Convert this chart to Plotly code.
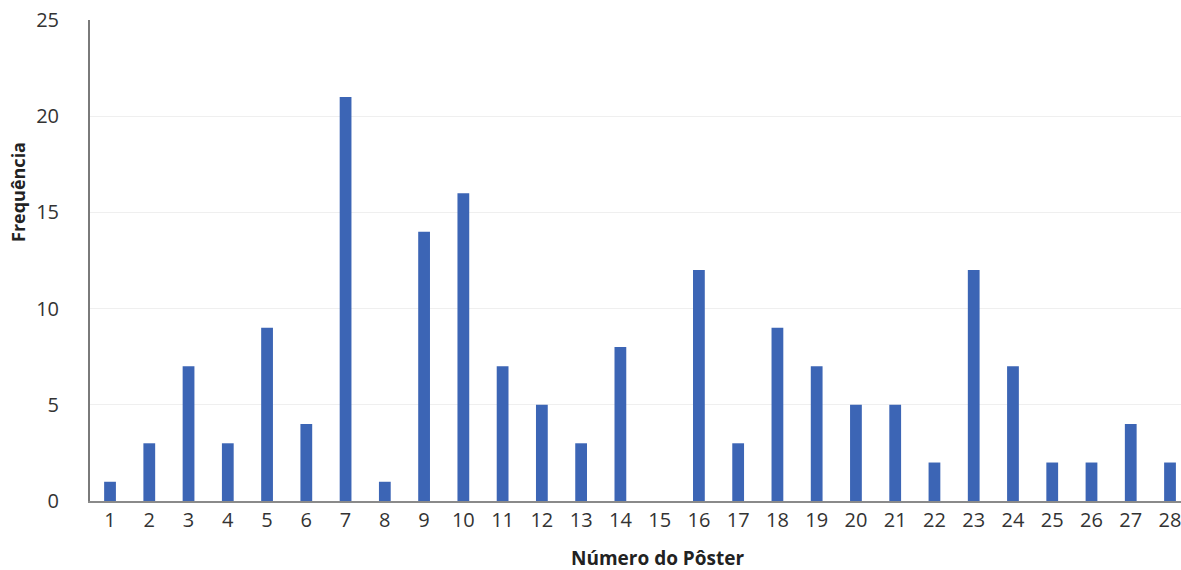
import plotly.graph_objects as go

posters = list(range(1, 29))
frequencia = [1, 3, 7, 3, 9, 4, 21, 1, 14, 16, 7, 5, 3, 8, 0, 12, 3, 9, 7, 5, 5, 2, 12, 7, 2, 2, 4, 2]
y_ticks = [0, 5, 10, 15, 20, 25]

fig = go.Figure()
fig.add_trace(go.Bar(x=posters, y=frequencia, width=0.3,
                     marker=dict(color="#3c65b5", line=dict(width=0))))

W, H = 1181, 570
ml, mr, mt, mb = 90, 0, 20, 69
pw, ph = W - ml - mr, H - mt - mb
fig.update_layout(
    width=W, height=H,
    margin=dict(l=ml, r=mr, t=mt, b=mb),
    paper_bgcolor="white", plot_bgcolor="white",
    font=dict(family="Open Sans, DejaVu Sans, sans-serif", size=20, color="#333333"),
    showlegend=False,
    xaxis=dict(range=[0.49, 28.28], tickmode="array", tickvals=posters,
               ticktext=[str(p) for p in posters], showgrid=False,
               showline=True, linecolor="#8a8a8a", linewidth=2, ticks="",
               zeroline=False, ticklabeloverflow="allow",
               tickfont=dict(size=20, color="#333333")),
    yaxis=dict(range=[0, 25], tickmode="array", tickvals=y_ticks,
               showgrid=True, gridcolor="#efefef", gridwidth=1,
               showline=True, linecolor="#7a7a7a", linewidth=2, ticks="",
               zeroline=False, ticklabelstandoff=25,
               tickfont=dict(size=20, color="#333333")),
)
fig.add_annotation(text="<b>Número do Pôster</b>", xref="paper", yref="paper",
                   x=(657 - ml) / pw, y=-(558 - (H - mb)) / ph,
                   xanchor="center", yanchor="middle", showarrow=False,
                   font=dict(size=19, color="#222222"))
fig.add_annotation(text="<b>Frequência</b>", xref="paper", yref="paper",
                   x=-(ml - 18) / pw, y=((H - mb) - 192) / ph, textangle=-90,
                   xanchor="center", yanchor="middle", showarrow=False,
                   font=dict(size=18, color="#222222"))
fig.write_html("out.html", config={"displayModeBar": False},
               post_script="document.body.style.margin='0';document.body.style.overflow='hidden';")
